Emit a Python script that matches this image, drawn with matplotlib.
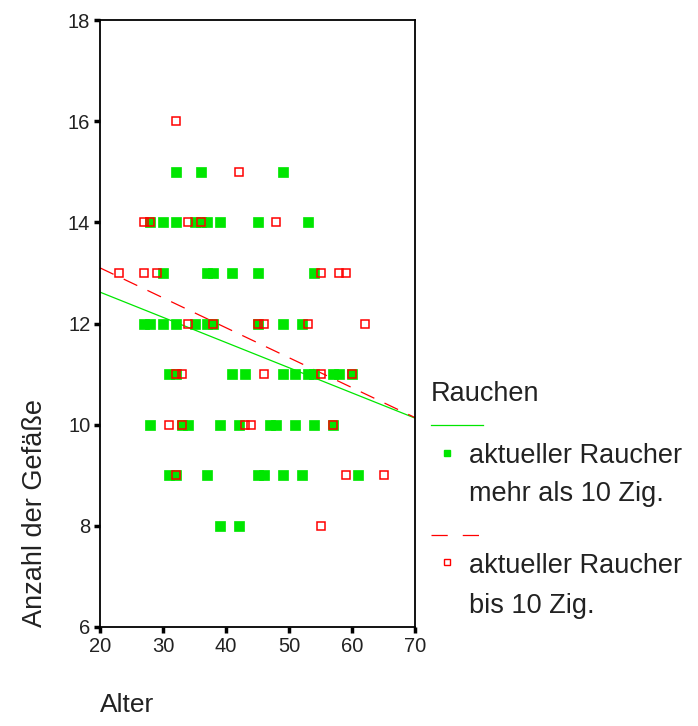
import matplotlib
matplotlib.use('Agg')
import matplotlib.pyplot as plt
from matplotlib.lines import Line2D
import numpy as np

plt.rcParams['font.family'] = ['Liberation Sans', 'DejaVu Sans']

# Raucher mehr als 10 Zig.: Alter und Anzahl der Gefaesse
heavy_age = [32, 36, 49,
             28, 30, 32, 35, 36, 37, 39, 45, 53,
             30, 37, 38, 41, 45, 54,
             27, 28, 30, 32, 35, 37, 38, 45, 49, 52,
             31, 32, 41, 43, 49, 51, 53, 54, 57, 58, 60,
             28, 33, 34, 39, 42, 47, 48, 51, 54, 57,
             31, 32, 37, 45, 46, 49, 52, 61,
             39, 42]
heavy_n = [15] * 3 + [14] * 9 + [13] * 6 + [12] * 10 + [11] * 11 + [10] * 10 + [9] * 8 + [8] * 2

# Raucher bis 10 Zig.
light_age = [32,
             42,
             27, 28, 34, 36, 48,
             23, 27, 29, 55, 58, 59,
             34, 38, 45, 46, 53, 62,
             32, 33, 46, 55, 60,
             31, 33, 43, 44, 57,
             32, 59, 65,
             55]
light_n = [16] + [15] + [14] * 5 + [13] * 6 + [12] * 6 + [11] * 5 + [10] * 5 + [9] * 3 + [8]

# Regressionsgeraden (Werte bei Alter 20 und 70)
fit_age = [20, 70]
heavy_fit = [12.62, 10.13]
light_fit = [13.10, 10.14]

GREEN = '#00e600'
RED = '#ff0000'
TXT = '#222222'

W, H = 698, 726
fig = plt.figure(figsize=(W / 100, H / 100), dpi=100)
ax = fig.add_axes([100 / W, 1 - 627 / H, 315 / W, 607 / H])

ax.plot(fit_age, heavy_fit, color=GREEN, lw=0.9, zorder=2)
ax.plot(fit_age, light_fit, color=RED, lw=0.9, dashes=(12, 9), zorder=2)
ax.plot(heavy_age, heavy_n, 's', ms=6.5, mfc=GREEN, mec=GREEN, mew=0.5, ls='none', zorder=3)
ax.plot(light_age, light_n, 's', ms=6.2, mfc='none', mec=RED, mew=1.1, ls='none', zorder=4)

ax.set_xlim(20, 70)
ax.set_ylim(6, 18)
ax.set_xticks(np.arange(20, 71, 10))
ax.set_yticks(np.arange(6, 19, 2))
ax.tick_params(direction='out', length=4, width=2.5, color='black',
               labelsize=14.5, pad=3, labelcolor=TXT)
for s in ax.spines.values():
    s.set_linewidth(1.3)

ax.set_ylabel('Anzahl der Gefäße', fontsize=19.5, loc='bottom', labelpad=14, color=TXT)
ax.set_xlabel('Alter', fontsize=19, loc='left', labelpad=27, color=TXT)

# Legende rechts neben dem Diagramm
def px(x, y):
    return x / W, 1 - y / H

fs = 19.5
fig.text(*px(431, 394), 'Rauchen', fontsize=fs, va='center', ha='left', color=TXT)
fig.add_artist(Line2D([431 / W, 483 / W], [1 - 425 / H] * 2, color=GREEN, lw=0.9))
fig.add_artist(Line2D([447 / W], [1 - 453 / H], marker='s', ms=4.5, mfc=GREEN, mec=GREEN, ls='none'))
fig.text(*px(469, 456), 'aktueller Raucher', fontsize=fs, va='center', ha='left', color=TXT)
fig.text(*px(469, 494), 'mehr als 10 Zig.', fontsize=fs, va='center', ha='left', color=TXT)
fig.add_artist(Line2D([431 / W, 483 / W], [1 - 535 / H] * 2, color=RED, lw=0.9, dashes=(13, 12)))
fig.add_artist(Line2D([447 / W], [1 - 562 / H], marker='s', ms=4.5, mfc='none', mec=RED, mew=1, ls='none'))
fig.text(*px(469, 566), 'aktueller Raucher', fontsize=fs, va='center', ha='left', color=TXT)
fig.text(*px(469, 606), 'bis 10 Zig.', fontsize=fs, va='center', ha='left', color=TXT)

fig.savefig('out.png', dpi=100)
